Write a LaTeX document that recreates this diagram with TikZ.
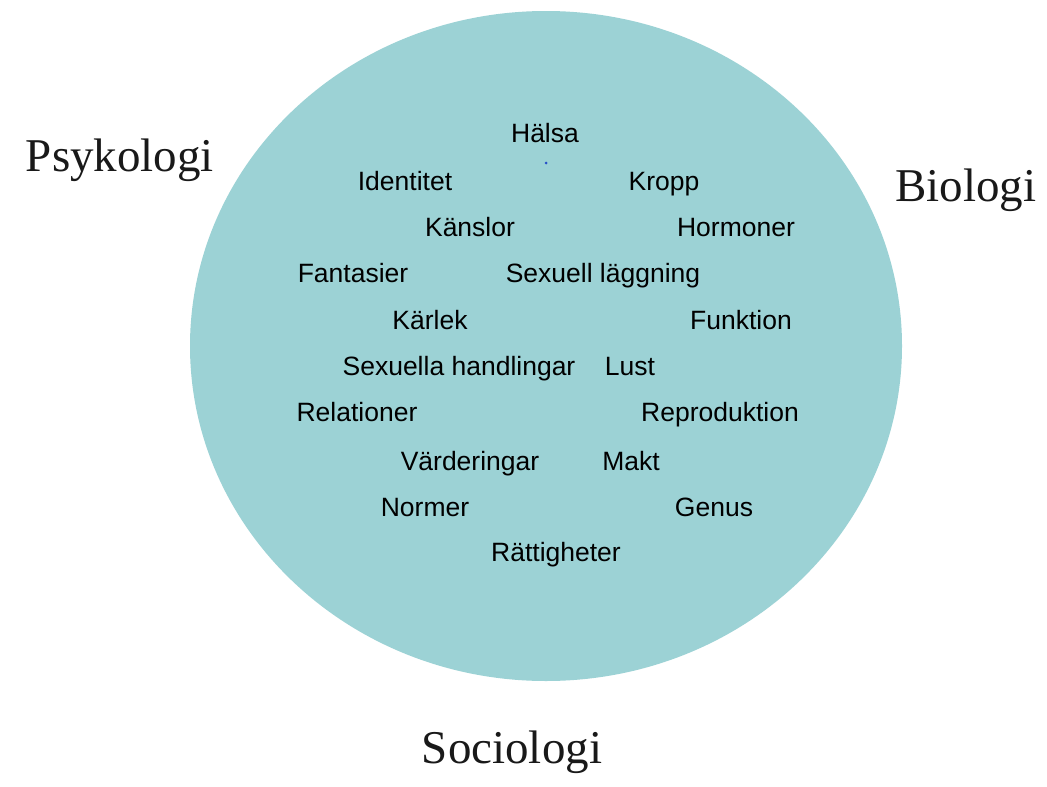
\documentclass[tikz,border=0pt]{standalone}
\usepackage{fontspec}
\setmainfont{Liberation Serif}
\newfontfamily\innerfont{Liberation Sans}
\definecolor{discteal}{RGB}{156,210,213}
\definecolor{dotblue}{RGB}{40,80,200}
\begin{document}
\begin{tikzpicture}[x=1pt,y=-1pt,
  term/.style={font=\innerfont\fontsize{26.5}{30}\selectfont, text=black, inner sep=0pt, anchor=base},
  field/.style={font=\fontsize{47}{56}\selectfont, text=black!90, inner sep=0pt}]
\useasboundingbox (0,0) rectangle (1047,787);
\fill[white] (0,0) rectangle (1047,787);
\fill[discteal] (546,346) ellipse [x radius=356, y radius=335];
\fill[dotblue] (546,163) circle [radius=1.5];
\node[term] (halsa) at (545,142) {Hälsa};
\node[term] (identitet) at (405,190) {Identitet};
\node[term] (kropp) at (664,190) {Kropp};
\node[term] (kanslor) at (470,236) {Känslor};
\node[term] (hormoner) at (736,236) {Hormoner};
\node[term] (fantasier) at (353,282) {Fantasier};
\node[term] (sexlagg) at (603,282) {Sexuell läggning};
\node[term] (karlek) at (430,329) {Kärlek};
\node[term] (funktion) at (741,329) {Funktion};
\node[term] (sexhand) at (459,375) {Sexuella handlingar};
\node[term] (lust) at (630,375) {Lust};
\node[term] (relationer) at (357,421) {Relationer};
\node[term] (reproduktion) at (720,421) {Reproduktion};
\node[term] (varderingar) at (470,470) {Värderingar};
\node[term] (makt) at (631,470) {Makt};
\node[term] (normer) at (425,516) {Normer};
\node[term] (genus) at (714,516) {Genus};
\node[term] (rattigheter) at (556,561) {Rättigheter};
\node[field] (psykologi) at (120,160) {Psykologi};
\node[field] (biologi) at (966,190) {Biologi};
\node[field] (sociologi) at (512,752) {Sociologi};
\end{tikzpicture}
\end{document}
